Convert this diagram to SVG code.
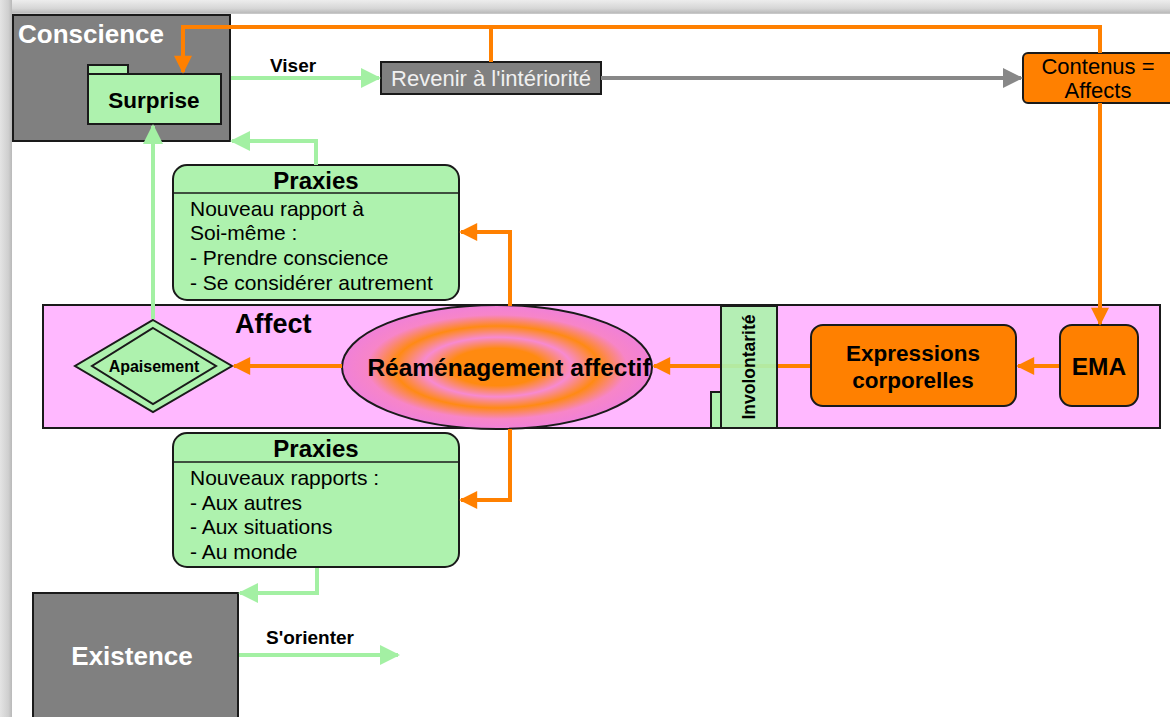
<svg xmlns="http://www.w3.org/2000/svg" width="1170" height="717" viewBox="0 0 1170 717">
<defs>
<linearGradient id="topg" x1="0" y1="0" x2="0" y2="1"><stop offset="0" stop-color="#ededed"/><stop offset="0.6" stop-color="#d6d6d6"/><stop offset="1" stop-color="#b4b4b4"/></linearGradient>
<linearGradient id="leftg" x1="0" y1="0" x2="1" y2="0"><stop offset="0" stop-color="#e4e4e4"/><stop offset="0.7" stop-color="#cfcfcf"/><stop offset="1" stop-color="#b8b8b8"/></linearGradient>
<radialGradient id="ring" cx="0.5" cy="0.5" r="0.5">
<stop offset="0" stop-color="#ff8a10"/><stop offset="0.3" stop-color="#ff8a10"/><stop offset="0.48" stop-color="#f78ad0"/><stop offset="0.66" stop-color="#ff8a14"/><stop offset="0.84" stop-color="#f785c8"/><stop offset="1" stop-color="#f080d8"/>
</radialGradient>
<marker id="ag" viewBox="0 0 10 10" refX="9" refY="5" markerWidth="5" markerHeight="5" markerUnits="strokeWidth" orient="auto"><path d="M0,0 L10,5 L0,10 z" fill="#a3f0a3"/></marker>
<marker id="ao" viewBox="0 0 10 10" refX="9" refY="5" markerWidth="5" markerHeight="4.5" markerUnits="strokeWidth" orient="auto"><path d="M0,0 L10,5 L0,10 z" fill="#ff8000"/></marker>
<marker id="agr" viewBox="0 0 10 10" refX="9" refY="5" markerWidth="5" markerHeight="5" markerUnits="strokeWidth" orient="auto"><path d="M0,0 L10,5 L0,10 z" fill="#888888"/></marker>
</defs>
<style>
.dk{fill:#808080;stroke:#1a1a1a;stroke-width:2}
.gr{fill:#aef2ae;stroke:#1a1a1a;stroke-width:2}
.or{fill:#ff8000;stroke:#1a1a1a;stroke-width:2}
.t{font-family:"Liberation Sans",Arial,sans-serif;fill:#000}
.b{font-weight:bold}
.w{fill:#ffffff}
.lg{fill:none;stroke:#a3f0a3;stroke-width:4}
.lo{fill:none;stroke:#ff8000;stroke-width:4}
</style>
<rect x="0" y="0" width="1170" height="717" fill="#ffffff"/>
<rect x="0" y="0" width="1170" height="14" fill="url(#topg)"/>
<rect x="0" y="0" width="12" height="717" fill="url(#leftg)"/>
<rect x="12" y="13" width="1158" height="1" fill="#c8c8c8"/>

<g id="affect">
<rect x="43" y="305" width="1117" height="123" fill="#ffb8ff" stroke="#1a1a1a" stroke-width="2"/>
<text class="t b" x="235" y="333" font-size="27">Affect</text>
</g>

<g id="conscience">
<rect class="dk" x="13" y="15" width="217" height="126"/>
<text class="t b w" x="18" y="43" font-size="26">Conscience</text>
</g>

<g id="surprise">
<rect class="gr" x="88" y="65" width="40" height="9"/>
<rect class="gr" x="88" y="74" width="133" height="50"/>
<text class="t b" x="154" y="108" font-size="22.5" text-anchor="middle">Surprise</text>
</g>

<g id="revenir">
<rect class="dk" x="381" y="62" width="220" height="32"/>
<text x="491" y="86" font-size="22" text-anchor="middle" font-family="Liberation Sans, Arial, sans-serif" fill="#f0f0f0">Revenir à l'intériorité</text>
</g>

<g id="contenus">
<rect class="or" x="1023" y="53" width="160" height="50" rx="5"/>
<text class="t" x="1098" y="74" font-size="22" text-anchor="middle">Contenus =</text>
<text class="t" x="1098" y="98" font-size="22" text-anchor="middle">Affects</text>
</g>

<g id="praxies1">
<rect class="gr" x="173" y="165" width="286" height="135" rx="14"/>
<line x1="173" y1="193" x2="459" y2="193" stroke="#1a1a1a" stroke-width="1.5"/>
<text class="t b" x="316" y="189" font-size="24" text-anchor="middle">Praxies</text>
<text class="t" x="190" y="216" font-size="21">Nouveau rapport à</text>
<text class="t" x="190" y="240" font-size="21">Soi-même :</text>
<text class="t" x="190" y="265" font-size="21">- Prendre conscience</text>
<text class="t" x="190" y="290" font-size="21">- Se considérer autrement</text>
</g>

<g id="apaisement">
<polygon class="gr" points="153,320 232,366 153,412 75,366"/>
<polygon fill="none" stroke="#1a1a1a" stroke-width="2" points="153,328 216,366 153,404 92,366"/>
<text class="t b" x="154" y="372" font-size="16" text-anchor="middle">Apaisement</text>
</g>

<g id="reamenagement">
<ellipse cx="497" cy="367" rx="155" ry="62" fill="url(#ring)" stroke="#1a1a1a" stroke-width="2"/>
<text class="t b" x="509" y="376" font-size="24.5" text-anchor="middle">Réaménagement affectif</text>
</g>

<g id="connectors-inner">
<path class="lo" d="M342,366 L234,366" marker-end="url(#ao)"/>
<path class="lo" d="M811,366 L654,366" marker-end="url(#ao)"/>
<path class="lo" d="M1060,366 L1018,366" marker-end="url(#ao)"/>
</g>

<g id="involontarite">
<rect class="gr" x="711" y="392" width="10" height="36"/>
<rect class="gr" x="721" y="306" width="56" height="122" fill-opacity="0.92"/>
<text class="t b" transform="translate(755,367) rotate(-90)" x="0" y="0" font-size="17.5" text-anchor="middle">Involontarité</text>
</g>

<g id="expressions">
<rect class="or" x="811" y="325" width="205" height="81" rx="12"/>
<text class="t b" x="913" y="361" font-size="22.5" text-anchor="middle">Expressions</text>
<text class="t b" x="913" y="388" font-size="22.5" text-anchor="middle">corporelles</text>
</g>

<g id="ema">
<rect class="or" x="1060" y="325" width="78" height="81" rx="12"/>
<text class="t b" x="1099" y="375" font-size="24.5" text-anchor="middle">EMA</text>
</g>

<g id="praxies2">
<rect class="gr" x="173" y="433" width="286" height="134" rx="14"/>
<line x1="173" y1="462" x2="459" y2="462" stroke="#1a1a1a" stroke-width="1.5"/>
<text class="t b" x="316" y="457" font-size="24" text-anchor="middle">Praxies</text>
<text class="t" x="190" y="485" font-size="21">Nouveaux rapports :</text>
<text class="t" x="190" y="510" font-size="21">- Aux autres</text>
<text class="t" x="190" y="534" font-size="21">- Aux situations</text>
<text class="t" x="190" y="559" font-size="21">- Au monde</text>
</g>

<g id="existence">
<rect class="dk" x="33" y="593" width="205" height="126"/>
<text class="t b w" x="132" y="665" font-size="26" text-anchor="middle">Existence</text>
</g>

<g id="connectors">
<path class="lo" d="M1100,53 L1100,27 L183,27 L183,72" marker-end="url(#ao)"/>
<path class="lo" d="M491,27 L491,62"/>
<path class="lo" d="M1100,103 L1100,324" marker-end="url(#ao)"/>
<path class="lg" d="M231,78 L379,78" marker-end="url(#ag)"/>
<path fill="none" stroke="#888888" stroke-width="4" d="M601,78 L1021,78" marker-end="url(#agr)"/>
<path class="lg" d="M316,165 L316,141 L232,141" marker-end="url(#ag)"/>
<path class="lg" d="M153,319 L153,126" marker-end="url(#ag)"/>
<path class="lo" d="M510,306 L510,232 L461,232" marker-end="url(#ao)"/>
<path class="lo" d="M510,429 L510,500 L461,500" marker-end="url(#ao)"/>
<path class="lg" d="M317,568 L317,593 L240,593" marker-end="url(#ag)"/>
<path class="lg" d="M239,655 L398,655" marker-end="url(#ag)"/>
</g>

<g id="labels">
<text class="t b" x="270" y="72" font-size="19">Viser</text>
<text class="t b" x="266" y="644" font-size="19">S'orienter</text>
</g>
</svg>
